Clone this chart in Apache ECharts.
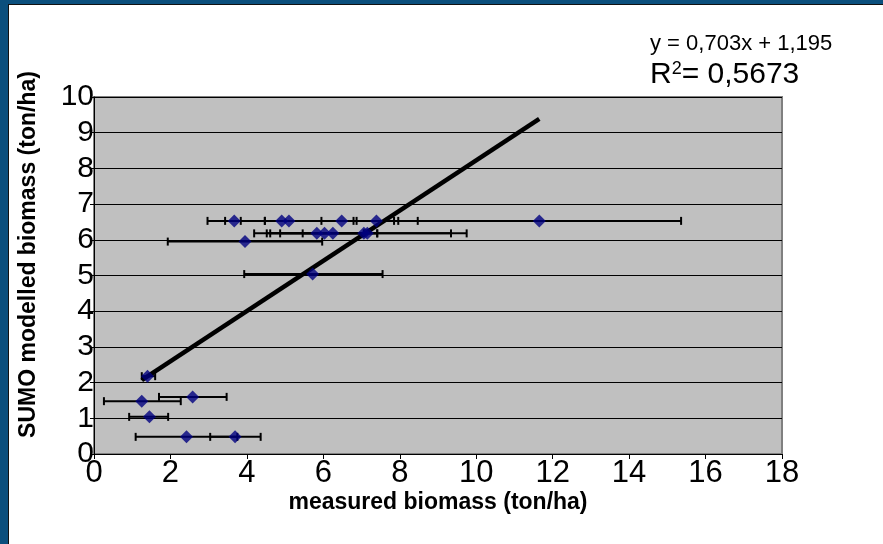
<!DOCTYPE html>
<html><head><meta charset="utf-8">
<script src="https://cdn.jsdelivr.net/npm/echarts@6/dist/echarts.min.js"></script>
<style>
html,body{margin:0;padding:0;background:#0B4F7D;width:883px;height:544px;overflow:hidden;}
#panel{position:absolute;left:8px;top:4px;width:875px;height:540px;background:#fff;border-top:1px solid #111;border-left:1px solid #111;box-sizing:border-box;}
#chart{position:absolute;left:0;top:0;width:883px;height:544px;}
</style></head>
<body>
<div id="panel"></div>
<div id="chart"></div>
<script>
// measured biomass (x), SUMO modelled biomass (y), error bar extents on x
const measured = [3.67, 4.91, 5.10, 6.48, 7.39, 11.65, 5.83, 6.03, 6.25, 7.06, 7.15, 3.95, 5.72, 1.40, 1.25, 2.58, 1.45, 2.42, 3.69];
const modelled = [6.53, 6.53, 6.53, 6.53, 6.53, 6.53, 6.18, 6.18, 6.18, 6.18, 6.18, 5.95, 5.04, 2.18, 1.48, 1.60, 1.04, 0.48, 0.48];
const errLow  = [2.97, 3.84, 3.43, 4.47, 6.87, 7.96, 4.19, 4.52, 5.46, 4.87, 4.61, 1.93, 3.93, 1.25, 0.26, 1.70, 0.92, 1.09, 3.04];
const errHigh = [4.47, 5.95, 6.79, 8.47, 7.85, 15.36, 7.41, 7.41, 7.06, 9.34, 9.75, 5.97, 7.55, 1.60, 2.27, 3.47, 1.94, 3.75, 4.36];
const trendX = [1.25, 11.65];
const trendY = [2.07, 9.39];
const xTicks = [0, 2, 4, 6, 8, 10, 12, 14, 16, 18];
const yTicks = [0, 1, 2, 3, 4, 5, 6, 7, 8, 9, 10];
const equation = 'y = 0,703x + 1,195';
const r2Value = '0,5673';

const points = measured.map((x, i) => [x, modelled[i]]);
const bars = measured.map((x, i) => [errLow[i], errHigh[i], modelled[i]]);
const trend = trendX.map((x, i) => [x, trendY[i]]);

const FONT = 'Liberation Sans, Arial';
const chart = echarts.init(document.getElementById('chart'));
chart.setOption({
  animation: false,
  backgroundColor: 'transparent',
  grid: {left: 94, top: 97, right: 101, bottom: 90, show: true, backgroundColor: '#C0C0C0', borderColor: '#808080', borderWidth: 2},
  xAxis: {
    type: 'value', min: xTicks[0], max: xTicks[xTicks.length - 1], interval: 2,
    axisLine: {lineStyle: {color: '#000', width: 1}},
    axisTick: {show: true, length: 5, inside: false, lineStyle: {color: '#000'}},
    splitLine: {show: false},
    axisLabel: {fontFamily: FONT, fontSize: 31, color: '#000', margin: 4},
    name: 'measured biomass (ton/ha)', nameLocation: 'middle', nameGap: 37, nameMoveOverlap: false,
    nameTextStyle: {fontFamily: FONT, fontWeight: 'bold', fontSize: 23, color: '#000'}
  },
  yAxis: {
    type: 'value', min: yTicks[0], max: yTicks[yTicks.length - 1], interval: 1,
    axisLine: {show: true, lineStyle: {color: '#000', width: 1}},
    axisTick: {show: true, length: 4, inside: false, lineStyle: {color: '#000'}},
    splitLine: {show: true, lineStyle: {color: '#000', width: 1}},
    axisLabel: {fontFamily: FONT, fontSize: 30, color: '#000', margin: 0},
    name: 'SUMO modelled biomass (ton/ha)', nameLocation: 'middle', nameGap: 54, nameRotate: 90,
    nameTextStyle: {fontFamily: FONT, fontWeight: 'bold', fontSize: 23, color: '#000', padding: [0, 0, 0, 42]}
  },
  graphic: [
    {type: 'text', left: 650, top: 33, style: {text: equation, fontFamily: FONT, fontSize: 22, fill: '#000'}},
    {type: 'text', left: 650, top: 60, style: {
      text: '{r|R}{s|2}{r|= ' + r2Value + '}',
      rich: {r: {fontFamily: FONT, fontSize: 30, fill: '#000', verticalAlign: 'bottom'},
             s: {fontFamily: FONT, fontSize: 18, fill: '#000', verticalAlign: 'top', padding: [0, 0, 12, 0]}}
    }}
  ],
  series: [
    {
      type: 'custom', z: 3,
      data: bars,
      renderItem: function (params, api) {
        const y = api.value(2);
        const p1 = api.coord([api.value(0), y]);
        const p2 = api.coord([api.value(1), y]);
        const h = 4;
        const st = {stroke: '#000', lineWidth: 2};
        return {type: 'group', children: [
          {type: 'line', shape: {x1: p1[0], y1: p1[1], x2: p2[0], y2: p2[1]}, style: st},
          {type: 'line', shape: {x1: p1[0], y1: p1[1] - h, x2: p1[0], y2: p1[1] + h}, style: st},
          {type: 'line', shape: {x1: p2[0], y1: p2[1] - h, x2: p2[0], y2: p2[1] + h}, style: st}
        ]};
      }
    },
    {
      type: 'line', data: trend, z: 4, symbol: 'none',
      lineStyle: {color: '#000', width: 4.5}
    },
    {
      type: 'scatter', data: points, z: 5, symbol: 'diamond', symbolSize: [13, 13],
      itemStyle: {color: '#000080'}
    }
  ]
});
</script>
</body></html>
